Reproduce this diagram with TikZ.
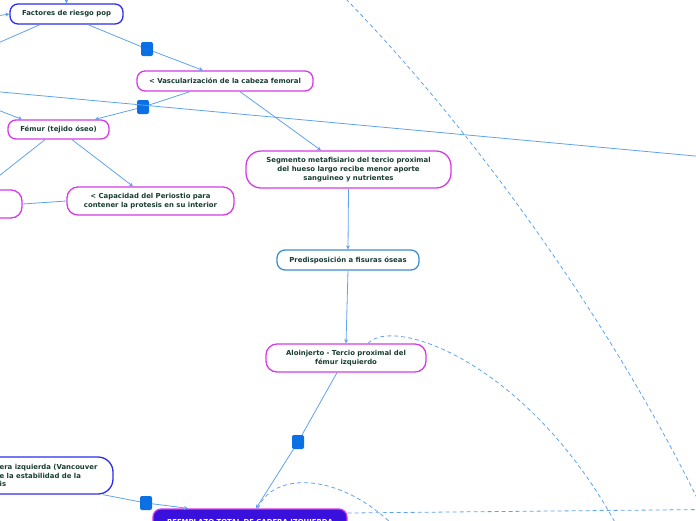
\documentclass[tikz,border=0pt]{standalone}
\usepackage{fontspec}
\setmainfont{DejaVu Sans}
\usetikzlibrary{arrows.meta}
\definecolor{linkblue}{RGB}{95,162,240}
\definecolor{markblue}{RGB}{10,112,228}
\definecolor{ideapink}{RGB}{214,58,232}
\definecolor{ideablue}{RGB}{45,45,240}
\definecolor{steelline}{RGB}{62,142,205}
\definecolor{rootfill}{RGB}{58,16,220}
\definecolor{textgreen}{RGB}{24,60,50}
\begin{document}
\begin{tikzpicture}[x=1pt,y=-1pt,
  idea/.style={draw=ideapink,line width=1.3pt,rounded corners=8pt,text=textgreen,
    font=\fontsize{6.9}{8.7}\selectfont\bfseries,align=center,inner sep=0pt},
  marker/.style={fill=markblue,rounded corners=2pt,minimum width=12pt,minimum height=14pt,inner sep=0pt},
  link/.style={draw=linkblue,line width=0.8pt,-{Stealth[length=4pt,width=4pt]}},
  plain/.style={draw=linkblue,line width=0.8pt},
  relation/.style={draw=linkblue,line width=0.8pt,dash pattern=on 4pt off 3pt}]

\useasboundingbox (0,0) rectangle (696,520);
\clip (0,0) rectangle (696,520);

% ideas
\node[idea,draw=ideablue,minimum width=113pt,minimum height=20pt] (factores) at (66.5,14) {Factores de riesgo pop};
\node[idea,minimum width=176pt,minimum height=20pt] (vasc) at (225,81) {< Vascularización de la cabeza femoral};
\node[idea,minimum width=101pt,minimum height=19pt] (femur) at (58.5,129.5) {Fémur (tejido óseo)};
\node[idea,minimum width=167pt,minimum height=28pt,rounded corners=11pt] (capacidad) at (150.5,201) {< Capacidad del Periostio para\\contener la protesis en su interior};
\node[idea,minimum width=102pt,minimum height=28pt,rounded corners=11pt] (leftmid) at (-29,204) {};
\node[idea,minimum width=205pt,minimum height=37pt,rounded corners=15pt] (segmento) at (348.5,169.5) {Segmento metafisiario del tercio proximal\\del hueso largo recibe menor aporte\\sanguineo y nutrientes};
\node[idea,draw=steelline,minimum width=142pt,minimum height=20pt] (predis) at (348,260) {Predisposición a fisuras óseas};
\node[idea,minimum width=160pt,minimum height=28pt,rounded corners=11pt] (aloinj) at (346,358) {Aloinjerto - Tercio proximal del\\fémur izquierdo};
\node[idea,draw=ideablue,minimum width=173pt,minimum height=37pt,rounded corners=15pt] (leftbox) at (26.5,475.5) {};
\node[idea,draw=none,align=left,anchor=west] (lefttext) at (-1,475.5) {era izquierda (Vancouver\\e la estabilidad de la\\is};
\node[idea,fill=rootfill,text=white,minimum width=194pt,minimum height=26pt,rounded corners=8pt] (reemplazo) at (250,522) {REEMPLAZO TOTAL DE CADERA IZQUIERDA};

% markers
\node[marker] (m1) at (147,49) {};
\node[marker] (m2) at (143,107) {};
\node[marker] (m3) at (298,442) {};
\node[marker] (m4) at (146,503) {};

% free ends
\coordinate (top in) at (66,-10);
\coordinate (left in) at (-10,17);
\coordinate (fac out) at (-10,46.5);
\coordinate (fem in) at (-10,107);
\coordinate (fem out) at (-10,183);
\coordinate (far l) at (-10,91);
\coordinate (far r) at (706,157);
\coordinate (a0) at (341,-6);
\coordinate (a1) at (700,504);
\coordinate (c1) at (617,526);
\coordinate (d1) at (398,530);
\coordinate (e1) at (706,509.5);

% connectors
\draw[link] (top in) -- (factores.north);
\draw[link] (left in) -- (factores.west);
\draw[plain] ([xshift=-26.5pt]factores.south) -- (fac out);
\draw[link] ([xshift=21.5pt]factores.south) -- (m1) -- ([xshift=-22pt]vasc.north);
\draw[plain] (far l) -- (far r);
\draw[link] ([xshift=-35pt]vasc.south) -- (m2) -- ([xshift=36.5pt]femur.north);
\draw[link] (fem in) -- ([xshift=-36.5pt]femur.north);
\draw[link] ([xshift=15pt]vasc.south) -- ([xshift=-27.5pt]segmento.north);
\draw[plain] ([xshift=-13.5pt]femur.south) -- (fem out);
\draw[link] ([xshift=13.5pt]femur.south) -- ([xshift=-17.5pt]capacidad.north);
\draw[plain] (capacidad.west) -- (leftmid.east);
\draw[link] (segmento.south) -- (predis.north);
\draw[link] (predis.south) -- (aloinj.north);
\draw[link] ([xshift=-9pt]aloinj.south) -- (m3) -- ([xshift=6pt]reemplazo.north);
\draw[link] ([xshift=76.5pt]leftbox.south) -- (m4) -- ([xshift=-62pt]reemplazo.north);

% relations
\draw[relation] (a0) .. controls (470,125) and (610,320) .. (a1);
\draw[relation] ([xshift=22pt]aloinj.north) .. controls (395,315) and (530,365) .. (c1);
\draw[relation] ([xshift=8pt]reemplazo.north) .. controls (272,472) and (340,470) .. (d1);
\draw[relation] ([yshift=9pt]reemplazo.east) -- (e1);

\end{tikzpicture}
\end{document}
